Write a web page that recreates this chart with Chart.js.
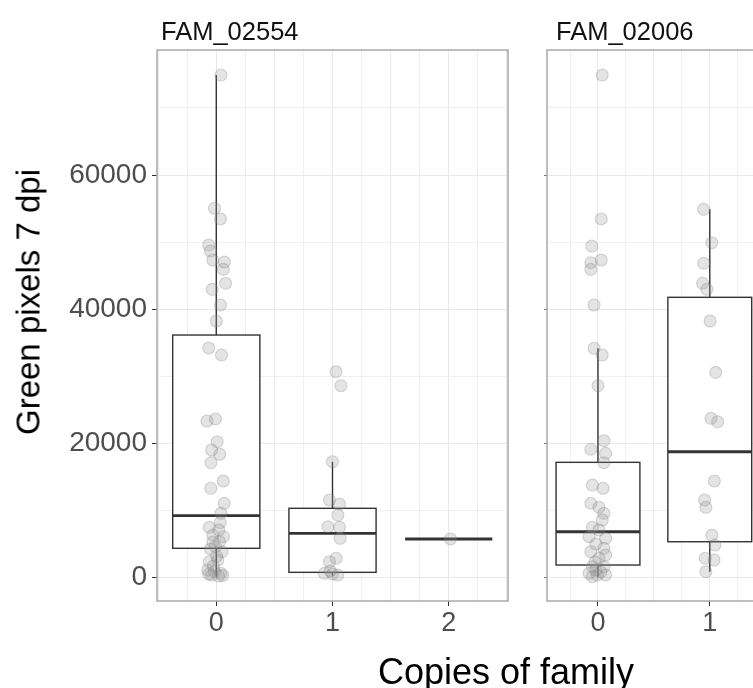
<!DOCTYPE html>
<html>
<head>
<meta charset="utf-8">
<title>Green pixels by family copy number</title>
<script src="https://cdn.jsdelivr.net/npm/chart.js@4.4.1/dist/chart.umd.min.js"></script>
<style>
  html, body { margin: 0; padding: 0; background: #fff; }
  #wrap { position: relative; width: 753px; height: 688px; overflow: hidden; background: #fff;
          font-family: "Liberation Sans", Arial, Helvetica, sans-serif; }
  canvas { position: absolute; top: 0; }
  #c1 { left: 0; }
  #c2 { left: 520px; }
  .axis-title { position: absolute; white-space: nowrap; color: #000; line-height: 1; }
  #ytitle { left: 28px; top: 302px; font-size: 33px; transform: translate(-50%, -50%) rotate(-90deg); }
  #xtitle { left: 506px; top: 672px; font-size: 36px; transform: translate(-50%, -50%); }
</style>
</head>
<body>
<div id="wrap">
  <canvas id="c1" width="530" height="688"></canvas>
  <canvas id="c2" width="378" height="688"></canvas>
  <div class="axis-title" id="ytitle">Green pixels 7 dpi</div>
  <div class="axis-title" id="xtitle">Copies of family</div>
</div>
<script>
// ---- data -------------------------------------------------------------
const panelNames = ['FAM_02554', 'FAM_02006'];
const copyTicks = [0, 1, 2];                       // labelled x ticks
const yTicks = [0, 20000, 40000, 60000];           // labelled y ticks
const yGrid = [0, 10000, 20000, 30000, 40000, 50000, 60000, 70000];

// FAM_02554: individual plants (copy number with jitter, green pixels)
const a_copies = [
  0.04, -0.015, 0.036, -0.065, -0.05, -0.03, 0.07, 0.06, 0.08, -0.035,
  0.036, 0.0, -0.065, 0.045, -0.08, -0.007, 0.008, -0.04, 0.03, -0.045,
  0.06, -0.047, 0.068, 0.04, -0.06, 0.034, -0.03, 0.062, 0.028, -0.007,
  0.05, -0.06, 0.013, -0.073, 0.04, -0.015, -0.04, 0.02, -0.065, 0.055,
  -0.025, 0.003, -0.05, 0.022, -0.03,
  1.03, 1.073, 1.0, 0.974, 1.06, 1.046, 0.96, 1.06, 1.066, 1.032,
  0.974, 0.93, 1.0, 1.046, 0.98,
  2.015
];
const a_pixels = [
  74900, 55040, 53450, 49570, 48680, 47340, 47040, 45950, 43870, 42970,
  40630, 38250, 34230, 33180, 23350, 23650, 20260, 19030, 18390, 17140,
  14410, 13320, 11090, 9600, 7510, 8200, 6360, 6110, 5360, 4620,
  3870, 2380, 2640, 1150, 660, 890, 400, 250, 550, 330,
  1740, 3230, 4280, 7110, 5320,
  30690, 28610, 17280, 11580, 10980, 9340, 7600, 7510, 5870, 2890,
  2380, 660, 550, 400, 1000,
  5770
];
// FAM_02554: box summaries for 0, 1, 2 copies
const a_whiskerLow  = [150, 300, 5770];
const a_q1          = [4380, 800, 5770];
const a_median      = [9240, 6620, 5770];
const a_q3          = [36160, 10340, 5770];
const a_whiskerHigh = [74900, 17280, 5770];

// FAM_02006: individual plants
const b_copies = [
  0.038, 0.029, -0.055, -0.064, 0.029, -0.064, -0.035, -0.035, 0.038, 0.0,
  0.053, -0.064, 0.068, 0.053, -0.05, 0.046, -0.064, 0.009, 0.053, 0.038,
  -0.05, 0.009, -0.079, 0.068, -0.02, 0.053, -0.064, 0.068, 0.009, -0.05,
  0.053, -0.079, -0.006, 0.068, -0.05, -0.02, 0.025, -0.026,
  0.945, 1.018, 0.945, 0.936, 0.974, 1.003, 1.053, 1.011, 1.07, 1.041,
  0.954, 0.965, 1.018, 1.046, 0.959, 1.038, 0.965
];
const b_pixels = [
  74900, 53450, 49420, 46940, 47340, 45950, 40630, 34180, 33180, 28610,
  20410, 19130, 18540, 17140, 13810, 13320, 11090, 10490, 9600, 8600,
  7510, 7110, 6110, 5870, 5020, 4380, 3870, 3380, 2890, 1640,
  1640, 660, 400, 400, 150, 1150, 850, 2340,
  54890, 49920, 46850, 43870, 42970, 38250, 30600, 23750, 23240, 14410,
  11580, 10490, 6360, 4870, 2890, 2640, 890
];
// FAM_02006: box summaries for 0, 1 copies
const b_whiskerLow  = [150, 890];
const b_q1          = [1890, 5360];
const b_median      = [6850, 18770];
const b_q3          = [17190, 41780];
const b_whiskerHigh = [34180, 54890];

// ---- drawing ----------------------------------------------------------
const FONT = '"Liberation Sans", Arial, Helvetica, sans-serif';
Chart.defaults.font.family = FONT;
Chart.defaults.animation = false;

const BOX_HALF = 0.375;

// Boxes are drawn under the points; panel frame and strip label on top.
const boxPlotPlugin = {
  id: 'boxPlot',
  beforeDatasetsDraw(chart, args, opts) {
    const { ctx, chartArea: a, scales: { x, y } } = chart;
    ctx.save();
    ctx.beginPath();
    ctx.rect(a.left, a.top, a.right - a.left, a.bottom - a.top);
    ctx.clip();
    ctx.strokeStyle = '#333333';
    opts.copies.forEach((c, i) => {
      const xl = x.getPixelForValue(c - BOX_HALF);
      const xr = x.getPixelForValue(c + BOX_HALF);
      const xc = x.getPixelForValue(c);
      const yLo = y.getPixelForValue(opts.low[i]);
      const yQ1 = y.getPixelForValue(opts.q1[i]);
      const yMed = y.getPixelForValue(opts.median[i]);
      const yQ3 = y.getPixelForValue(opts.q3[i]);
      const yHi = y.getPixelForValue(opts.high[i]);
      ctx.lineWidth = 1.4;
      ctx.beginPath();
      ctx.moveTo(xc, yHi); ctx.lineTo(xc, yQ3);
      ctx.moveTo(xc, yQ1); ctx.lineTo(xc, yLo);
      ctx.stroke();
      if (yQ1 - yQ3 > 0.5) {
        ctx.fillStyle = '#ffffff';
        ctx.fillRect(xl, yQ3, xr - xl, yQ1 - yQ3);
        ctx.strokeRect(xl, yQ3, xr - xl, yQ1 - yQ3);
      }
      ctx.lineWidth = 2.8;
      ctx.beginPath();
      ctx.moveTo(xl, yMed); ctx.lineTo(xr, yMed);
      ctx.stroke();
    });
    ctx.restore();
  },
  afterDraw(chart, args, opts) {
    const { ctx, chartArea: a } = chart;
    ctx.save();
    ctx.strokeStyle = '#a3a3a3';
    ctx.lineWidth = 1.4;
    ctx.strokeRect(a.left, a.top, a.right - a.left, a.bottom - a.top);
    ctx.fillStyle = '#111111';
    ctx.font = '25.5px ' + FONT;
    ctx.textBaseline = 'alphabetic';
    ctx.textAlign = 'left';
    ctx.fillText(opts.label, a.left + opts.labelInset, 40);
    ctx.restore();
  }
};

function quarterTicks(min, max) {
  const out = [];
  for (let v = Math.ceil(min * 4) / 4; v <= max + 1e-9; v += 0.25) out.push({ value: v });
  return out;
}

function makeChart(canvasId, cfg) {
  const points = cfg.copies.map((c, i) => ({ x: c, y: cfg.pixels[i] }));
  return new Chart(document.getElementById(canvasId), {
    type: 'scatter',
    data: {
      datasets: [{
        data: points,
        pointRadius: 6,
        pointHoverRadius: 6,
        backgroundColor: 'rgba(150,150,150,0.26)',
        borderColor: 'rgba(120,120,120,0.28)',
        borderWidth: 1.1
      }]
    },
    plugins: [boxPlotPlugin],
    options: {
      responsive: false,
      animation: false,
      events: [],
      layout: { padding: { top: 50, left: 0, right: cfg.padRight, bottom: 0 } },
      plugins: {
        legend: { display: false },
        tooltip: { enabled: false },
        boxPlot: {
          label: cfg.label, labelInset: cfg.labelInset, copies: cfg.boxCopies,
          low: cfg.low, q1: cfg.q1, median: cfg.median, q3: cfg.q3, high: cfg.high
        }
      },
      scales: {
        x: {
          type: 'linear',
          min: cfg.xMin,
          max: cfg.xMax,
          afterBuildTicks: (axis) => { axis.ticks = quarterTicks(cfg.xMin, cfg.xMax); },
          afterFit: (scale) => { scale.height = 87; },
          border: { display: false },
          grid: {
            color: (ctx) => {
              const v = ctx.tick ? ctx.tick.value : 0;
              return Math.abs(v * 2 - Math.round(v * 2)) < 1e-6 ? '#e9e9e9' : '#f0f0f0';
            },
            lineWidth: 1,
            tickLength: 5,
            tickColor: (ctx) => {
              const v = ctx.tick ? ctx.tick.value : 0.5;
              return copyTicks.includes(v) ? '#333333' : 'rgba(0,0,0,0)';
            }
          },
          ticks: {
            autoSkip: false,
            maxRotation: 0,
            padding: 1,
            color: '#4d4d4d',
            font: { size: 27 },
            callback: (v) => (copyTicks.includes(v) ? String(v) : '')
          }
        },
        y: {
          min: -3470,
          max: 78630,
          afterBuildTicks: (axis) => { axis.ticks = yGrid.map(v => ({ value: v })); },
          afterFit: (scale) => { scale.width = cfg.yWidth; },
          border: { display: false },
          grid: {
            color: (ctx) => (ctx.tick && yTicks.includes(ctx.tick.value) ? '#e9e9e9' : '#f0f0f0'),
            lineWidth: 1,
            tickLength: cfg.yTickLen,
            tickColor: (ctx) => (ctx.tick && yTicks.includes(ctx.tick.value) ? cfg.yTickColor : 'rgba(0,0,0,0)')
          },
          ticks: {
            display: cfg.showYLabels,
            padding: 5,
            color: '#4d4d4d',
            font: { size: 28 },
            callback: (v) => (yTicks.includes(v) ? String(v) : '')
          }
        }
      }
    }
  });
}

makeChart('c1', {
  label: panelNames[0], labelInset: 4,
  copies: a_copies, pixels: a_pixels,
  boxCopies: copyTicks,
  low: a_whiskerLow, q1: a_q1, median: a_median, q3: a_q3, high: a_whiskerHigh,
  xMin: -0.51, xMax: 2.51,
  yWidth: 157, padRight: 22,
  yTickLen: 5, yTickColor: '#333333', showYLabels: true
});

makeChart('c2', {
  label: panelNames[1], labelInset: 9,
  copies: b_copies, pixels: b_pixels,
  boxCopies: [0, 1],
  low: b_whiskerLow, q1: b_q1, median: b_median, q3: b_q3, high: b_whiskerHigh,
  xMin: -0.456, xMax: 2.62,
  yWidth: 27, padRight: 0,
  yTickLen: 3, yTickColor: '#777777', showYLabels: false
});
</script>
</body>
</html>
